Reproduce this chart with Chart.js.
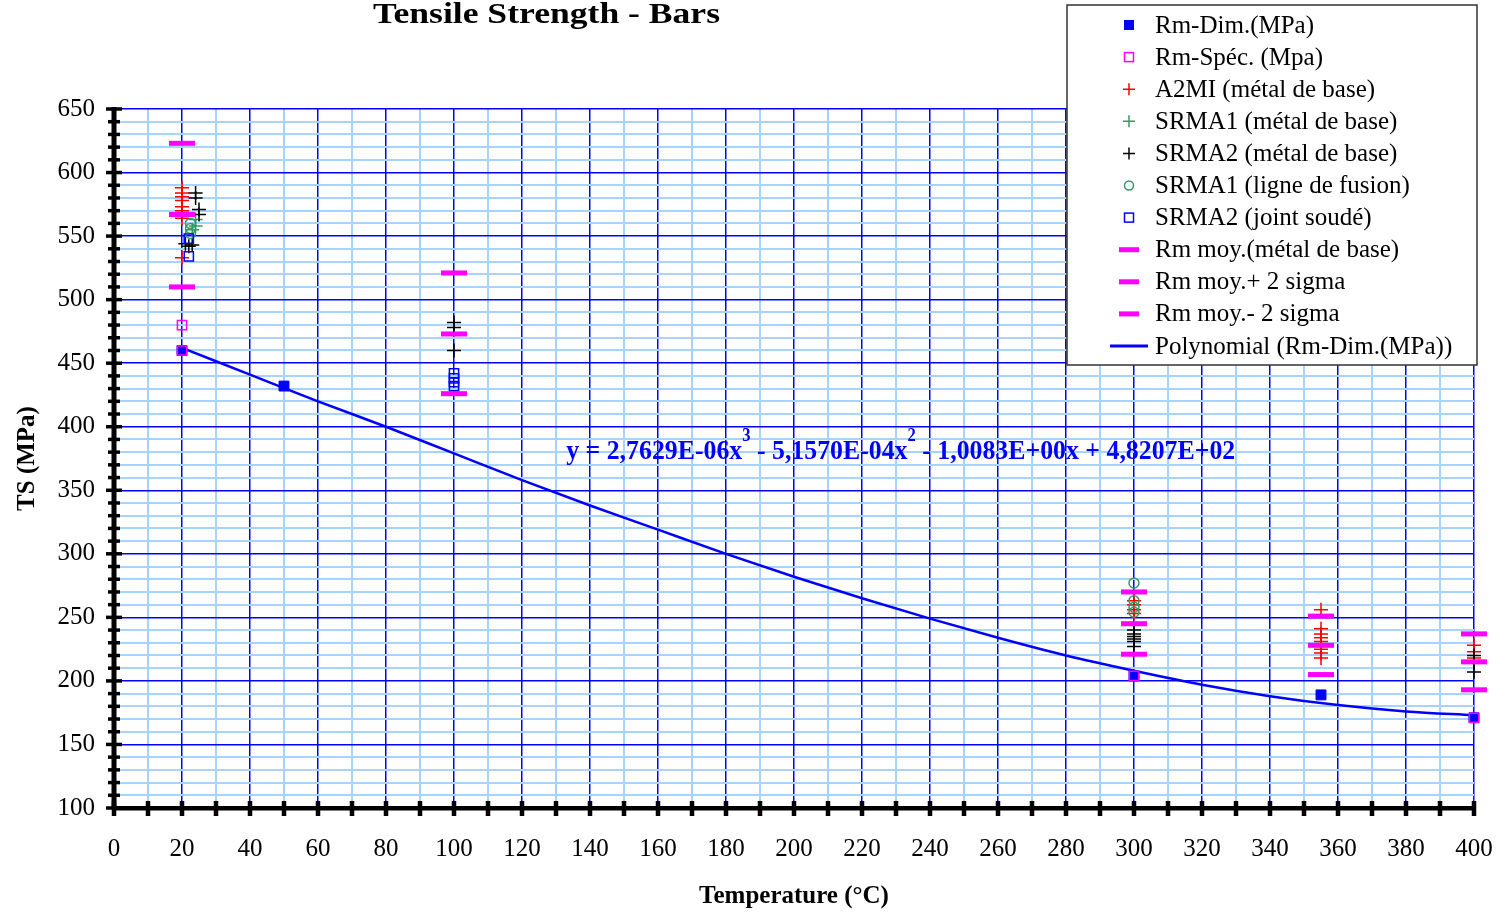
<!DOCTYPE html>
<html>
<head>
<meta charset="utf-8">
<title>Tensile Strength - Bars</title>
<script src="https://cdn.jsdelivr.net/npm/chart.js@4.4.1/dist/chart.umd.min.js"></script>
<style>
  html, body { margin: 0; padding: 0; background: #fff; }
  #wrap { width: 1501px; height: 912px; position: relative; }
</style>
</head>
<body>
<div id="wrap"><canvas id="tsChart"></canvas></div>
<script>
// === DATA ===
const xLabelTicks = [0, 20, 40, 60, 80, 100, 120, 140, 160, 180, 200, 220, 240, 260, 280, 300, 320, 340, 360, 380, 400];
const yLabelTicks = [100, 150, 200, 250, 300, 350, 400, 450, 500, 550, 600, 650];

const rmDimX = [20, 50, 300, 355, 400];
const rmDimY = [460, 432, 204, 189, 171];

const rmSpecX = [20, 20, 300, 400];
const rmSpecY = [480, 460, 204, 171];

const a2miX = [20, 20, 20, 20, 20, 20, 20, 20, 300, 300, 300, 300, 355, 355, 355, 355, 355, 355, 355, 355, 400, 400, 400];
const a2miY = [588, 584, 581, 578, 573, 570, 564, 533, 263, 260, 256, 253, 256, 241, 237, 234, 231, 225, 222, 218, 228, 223, 218];

const srma1BaseX = [24, 24, 23];
const srma1BaseY = [563, 558, 555];

const srma2BaseX = [24, 24, 25, 25, 21, 22, 23, 100, 100, 100, 300, 300, 300, 300, 300, 300, 400, 400, 400];
const srma2BaseY = [584, 580, 571, 567, 544, 542, 543, 482, 478, 460, 240, 237, 235, 233, 231, 227, 220, 214, 207];

const srma1FusionX = [22.5, 22.5, 22.5, 300, 300, 300, 300];
const srma1FusionY = [560, 556, 552, 277, 263, 258, 254];

const srma2JointX = [22, 22, 100, 100, 100, 100];
const srma2JointY = [548, 534, 442, 438, 435, 432];

const moyX = [20, 100, 300, 355, 400];
const moyY = [567, 473, 245, 228, 215];
const moyPlusY = [623, 521, 270, 251, 237];
const moyMinusY = [510, 426, 221, 205, 193];

// polynomial trend line, read at every 20 °C
const trendX = [20, 40, 60, 80, 100, 120, 140, 160, 180, 200, 220, 240, 260, 280, 300, 320, 340, 360, 380, 400];
const trendY = [462, 441, 420, 400, 379, 358, 338, 319, 300, 282, 265, 249, 234, 220, 208, 197, 188, 181, 176, 173];

// === STYLE ===
const SERIF = '"Liberation Serif", "Times New Roman", serif';
const BLUE = '#0000ff';
const MAGENTA = '#ff00ff';
const RED = '#ff0000';
const GREEN = '#339966';
const MINOR = '#a6d3ff';

const pts = (xs, ys) => xs.map((x, i) => ({ x: x, y: ys[i] }));

const series = [
    { label: 'Rm-Dim.(MPa)', data: pts(rmDimX, rmDimY), sym: 'rectFill', color: BLUE,
      pointStyle: 'rect', radius: 7, bg: BLUE, bw: 1 },
    { label: 'Rm-Spéc. (Mpa)', data: pts(rmSpecX, rmSpecY), sym: 'rectHollow', color: MAGENTA,
      pointStyle: 'rect', radius: 6.5, bg: 'rgba(0,0,0,0)', bw: 1.5 },
    { label: 'A2MI (métal de base)', data: pts(a2miX, a2miY), sym: 'cross', color: RED,
      pointStyle: 'cross', radius: 7, bw: 1.5 },
    { label: 'SRMA1 (métal de base)', data: pts(srma1BaseX, srma1BaseY), sym: 'cross', color: GREEN,
      pointStyle: 'cross', radius: 7, bw: 1.5 },
    { label: 'SRMA2 (métal de base)', data: pts(srma2BaseX, srma2BaseY), sym: 'cross', color: '#000000',
      pointStyle: 'cross', radius: 7, bw: 1.5 },
    { label: 'SRMA1 (ligne de fusion)', data: pts(srma1FusionX, srma1FusionY), sym: 'circle', color: GREEN,
      pointStyle: 'circle', radius: 5, bg: 'rgba(0,0,0,0)', bw: 1.5 },
    { label: 'SRMA2 (joint soudé)', data: pts(srma2JointX, srma2JointY), sym: 'rectHollow', color: BLUE,
      pointStyle: 'rect', radius: 6.5, bg: 'rgba(0,0,0,0)', bw: 1.5 },
    { label: 'Rm moy.(métal de base)', data: pts(moyX, moyY), sym: 'bar', color: MAGENTA,
      pointStyle: 'line', radius: 13, bw: 5 },
    { label: 'Rm moy.+ 2 sigma', data: pts(moyX, moyPlusY), sym: 'bar', color: MAGENTA,
      pointStyle: 'line', radius: 13, bw: 5 },
    { label: 'Rm moy.- 2 sigma', data: pts(moyX, moyMinusY), sym: 'bar', color: MAGENTA,
      pointStyle: 'line', radius: 13, bw: 5 }
];

const datasets = [{
    label: 'Polynomial (Rm-Dim.(MPa))',
    data: pts(trendX, trendY),
    showLine: true,
    borderColor: BLUE,
    borderWidth: 2.5,
    pointRadius: 0,
    cubicInterpolationMode: 'monotone',
    clip: false,
    order: 20
}];
series.forEach((s, i) => {
    datasets.push({
        label: s.label,
        data: s.data,
        showLine: false,
        pointStyle: s.pointStyle,
        pointRadius: s.radius,
        pointBorderColor: s.color,
        pointBackgroundColor: s.bg || s.color,
        pointBorderWidth: s.bw,
        clip: false,
        order: 15 - i
    });
});

// legend rows (symbol kind + colour), same order as the reference
const legendRows = series.map(s => ({ label: s.label, sym: s.sym, color: s.color }))
    .concat([{ label: 'Polynomial (Rm-Dim.(MPa))', sym: 'line', color: BLUE }]);

function drawSym(ctx, sym, color, x, y) {
    ctx.save();
    ctx.strokeStyle = color;
    ctx.fillStyle = color;
    ctx.lineWidth = 1.5;
    if (sym === 'rectFill') {
        ctx.fillRect(x - 5, y - 5, 10, 10);
    } else if (sym === 'rectHollow') {
        ctx.strokeRect(x - 4.5, y - 4.5, 9, 9);
    } else if (sym === 'cross') {
        ctx.beginPath();
        ctx.moveTo(x - 6, y); ctx.lineTo(x + 6, y);
        ctx.moveTo(x, y - 6); ctx.lineTo(x, y + 6);
        ctx.stroke();
    } else if (sym === 'circle') {
        ctx.beginPath();
        ctx.arc(x, y, 4.5, 0, Math.PI * 2);
        ctx.stroke();
    } else if (sym === 'bar') {
        ctx.fillRect(x - 10, y - 2.5, 20, 5);
    } else if (sym === 'line') {
        ctx.lineWidth = 3;
        ctx.beginPath();
        ctx.moveTo(x - 19, y); ctx.lineTo(x + 19, y);
        ctx.stroke();
    }
    ctx.restore();
}

// black axes with crossing tick marks
const axesPlugin = {
    id: 'blackAxes',
    beforeDatasetsDraw(chart) {
        const { ctx, chartArea: a, scales: { x, y } } = chart;
        ctx.save();
        ctx.fillStyle = '#000';
        ctx.fillRect(a.left - 2.5, a.top - 2, 5, a.bottom - a.top + 4);
        y.ticks.forEach(t => {
            const py = y.getPixelForValue(t.value);
            const hw = t.value % 50 === 0 ? 8 : 6;
            ctx.fillRect(a.left - hw, py - 1.75, hw * 2, 3.5);
        });
        ctx.fillRect(a.left - 2, a.bottom - 2, a.right - a.left + 4, 4.5);
        x.ticks.forEach(t => {
            const px = x.getPixelForValue(t.value);
            ctx.fillRect(px - 2.25, a.bottom - 7, 4.5, 15);
        });
        ctx.restore();
    }
};

// title, equation, legend box
const decoPlugin = {
    id: 'deco',
    afterDraw(chart) {
        const { ctx, scales: { x, y } } = chart;
        ctx.save();

        // title (slightly wide in the reference, so fit it to its width)
        ctx.fillStyle = '#000';
        ctx.font = 'bold 30px ' + SERIF;
        ctx.textBaseline = 'alphabetic';
        const title = 'Tensile Strength - Bars';
        const tw = ctx.measureText(title).width;
        ctx.save();
        ctx.translate(373, 23);
        ctx.scale(347 / tw, 1);
        ctx.fillText(title, 0, 0);
        ctx.restore();

        // trend line equation
        const parts = [
            ['y = 2,7629E-06x', false], ['3', true],
            [' - 5,1570E-04x', false], ['2', true],
            [' - 1,0083E+00x + 4,8207E+02', false]
        ];
        const big = 'bold 28px ' + SERIF, small = 'bold 18px ' + SERIF;
        let total = 0;
        parts.forEach(p => { ctx.font = p[1] ? small : big; total += ctx.measureText(p[0]).width; });
        const ex = x.getPixelForValue(133), ey = y.getPixelForValue(375);
        ctx.save();
        ctx.translate(ex, ey);
        ctx.scale(669 / total, 1);
        ctx.fillStyle = BLUE;
        let cx = 0;
        parts.forEach(p => {
            ctx.font = p[1] ? small : big;
            ctx.fillText(p[0], cx, p[1] ? -18 : 0);
            cx += ctx.measureText(p[0]).width;
        });
        ctx.restore();

        // legend
        const lx = 1067, ly = 5, lw = 410, lh = 360;
        ctx.fillStyle = '#fff';
        ctx.fillRect(lx, ly, lw, lh);
        ctx.strokeStyle = '#333';
        ctx.lineWidth = 1.5;
        ctx.strokeRect(lx, ly, lw, lh);
        ctx.font = '25px ' + SERIF;
        ctx.textBaseline = 'middle';
        legendRows.forEach((r, i) => {
            const ry = 25 + i * 32.1;
            drawSym(ctx, r.sym, r.color, 1129, ry);
            ctx.fillStyle = '#000';
            ctx.fillText(r.label, 1155, ry + 1);
        });
        ctx.restore();
    }
};

const tickFont = { family: SERIF, size: 25 };
const titleFont = { family: SERIF, size: 25, weight: 'bold' };

new Chart(document.getElementById('tsChart'), {
    type: 'scatter',
    data: { datasets: datasets },
    options: {
        responsive: true,
        maintainAspectRatio: false,
        animation: false,
        layout: { padding: { top: 109, right: 27, left: 0, bottom: 0 } },
        plugins: {
            legend: { display: false },
            tooltip: { enabled: false }
        },
        scales: {
            x: {
                type: 'linear',
                min: 0,
                max: 400,
                afterFit: (scale) => {
                    scale.height = 104;
                    scale.paddingLeft = 0;
                    scale.paddingRight = 0;
                },
                border: { display: false },
                grid: {
                    drawTicks: false,
                    color: (c) => (c.tick && c.tick.value % 20 === 0) ? BLUE : MINOR,
                    lineWidth: (c) => (c.tick && c.tick.value % 20 === 0) ? 1.5 : 2
                },
                ticks: {
                    stepSize: 10,
                    autoSkip: false,
                    maxRotation: 0,
                    padding: 26,
                    color: '#000',
                    font: tickFont,
                    callback: (v) => xLabelTicks.includes(v) ? String(v) : ''
                },
                title: {
                    display: true,
                    text: 'Temperature (°C)',
                    color: '#000',
                    font: titleFont,
                    padding: { top: 0, bottom: 0 }
                }
            },
            y: {
                type: 'linear',
                min: 100,
                max: 650,
                afterFit: (scale) => {
                    scale.width = 114;
                    scale.paddingTop = 0;
                    scale.paddingBottom = 0;
                },
                border: { display: false },
                grid: {
                    drawTicks: false,
                    color: (c) => (c.tick && c.tick.value % 50 === 0) ? BLUE : MINOR,
                    lineWidth: (c) => (c.tick && c.tick.value % 50 === 0) ? 1.5 : 2
                },
                ticks: {
                    stepSize: 10,
                    autoSkip: false,
                    padding: 19,
                    color: '#000',
                    font: tickFont,
                    callback: (v) => yLabelTicks.includes(v) ? String(v) : ''
                },
                title: {
                    display: true,
                    text: 'TS (MPa)',
                    color: '#000',
                    font: titleFont,
                    padding: { top: 13, bottom: 0 }
                }
            }
        }
    },
    plugins: [axesPlugin, decoPlugin]
});
</script>
</body>
</html>
